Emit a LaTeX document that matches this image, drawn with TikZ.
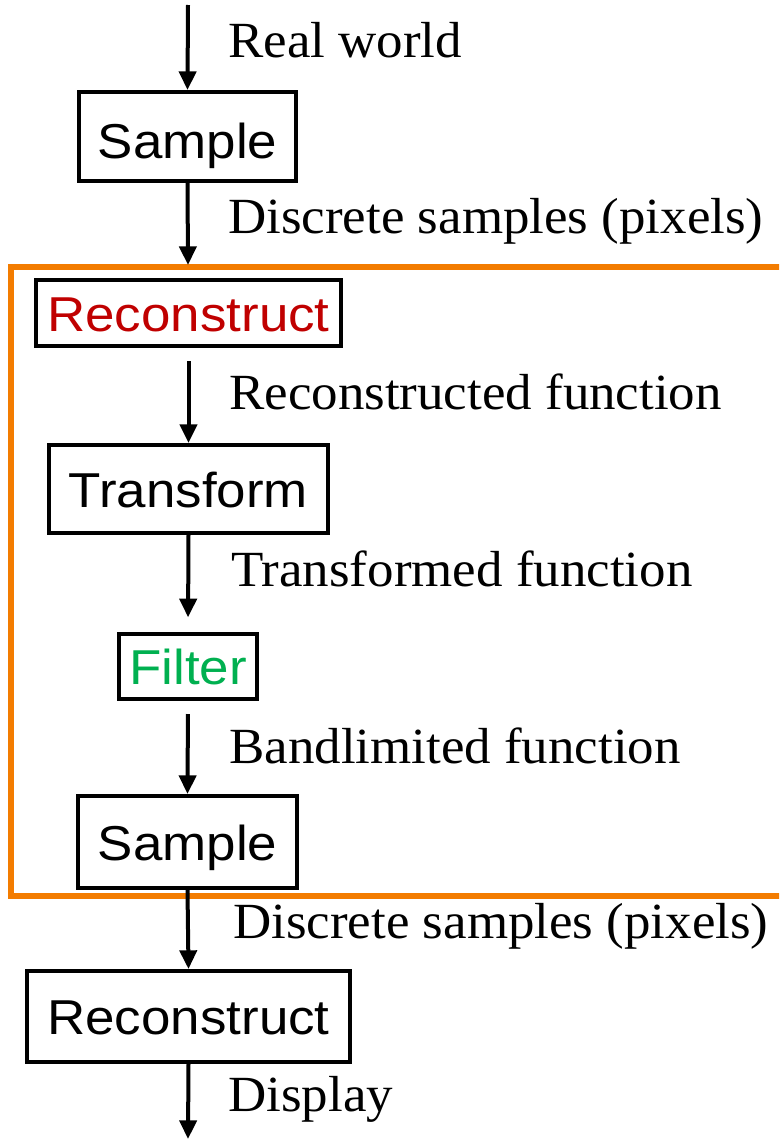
\documentclass[tikz,border=0pt]{standalone}
\usepackage{fontspec}
\setmainfont{Liberation Serif}[FakeStretch=1.045]
\newfontfamily\arialf{Liberation Sans}[FakeStretch=1.08]
\usetikzlibrary{arrows.meta}
\definecolor{boxorange}{RGB}{243,124,0}
\definecolor{darkred}{RGB}{192,0,0}
\definecolor{pptgreen}{RGB}{0,176,80}
\begin{document}
\begin{tikzpicture}[x=0.75pt,y=-0.75pt,
  stage/.style={draw=black,line width=3pt,inner sep=0pt,font=\arialf\fontsize{36.75}{44}\selectfont,text height=27pt,text depth=0pt},
  lbl/.style={anchor=base west,inner sep=0pt,font=\fontsize{38}{46}\selectfont},
  flow/.style={line width=3pt,-{Triangle[width=12.75pt,length=14pt]}},
  group/.style={draw=boxorange,line width=4.5pt}
]
\useasboundingbox (0,0) rectangle (779,1139);
\clip (0,0) rectangle (779,1139);

\draw[group] (11,267) rectangle (800,896);

\node[stage,minimum width=162.75pt,minimum height=66.75pt,text height=33pt] (s1) at (187.5,136.5) {Sample};
\node[stage,minimum width=228.75pt,minimum height=49.5pt,text=darkred] (r1) at (188.5,313) {Reconstruct};
\node[stage,minimum width=209.25pt,minimum height=66pt] (t1) at (188.5,489) {Transform};
\node[stage,minimum width=103.5pt,minimum height=48.75pt,text=pptgreen] (f1) at (188,666.5) {Filter};
\node[stage,minimum width=164.25pt,minimum height=69pt] (s2) at (187.5,842) {Sample};
\node[stage,minimum width=242.25pt,minimum height=68.25pt] (r2) at (188.5,1016.5) {Reconstruct};

\coordinate (top) at (188,5);
\coordinate (otop) at (188,265);
\coordinate (bot) at (188,1139);

\draw[flow] (top) -- (s1.north);
\draw[flow] (s1.south) -- (otop);
\draw[flow,shorten <=9.75pt] (r1.south) -- (t1.north);
\draw[flow,shorten >=11pt] (t1.south) -- (f1.north);
\draw[flow,shorten <=9.75pt] (f1.south) -- (s2.north);
\draw[flow] (s2.south) -- (r2.north);
\draw[flow] (r2.south) -- (bot);

\node[lbl] (l1) at (228,57) {Real world};
\node[lbl] (l2) at (228,233.3) {Discrete samples (pixels)};
\node[lbl] (l3) at (229,409.3) {Reconstructed function};
\node[lbl] (l4) at (231,586.7) {Transformed function};
\node[lbl] (l5) at (229,763.3) {Bandlimited function};
\node[lbl] (l6) at (233,938.3) {Discrete samples (pixels)};
\node[lbl] (l7) at (228,1111.7) {Display};
\end{tikzpicture}
\end{document}
